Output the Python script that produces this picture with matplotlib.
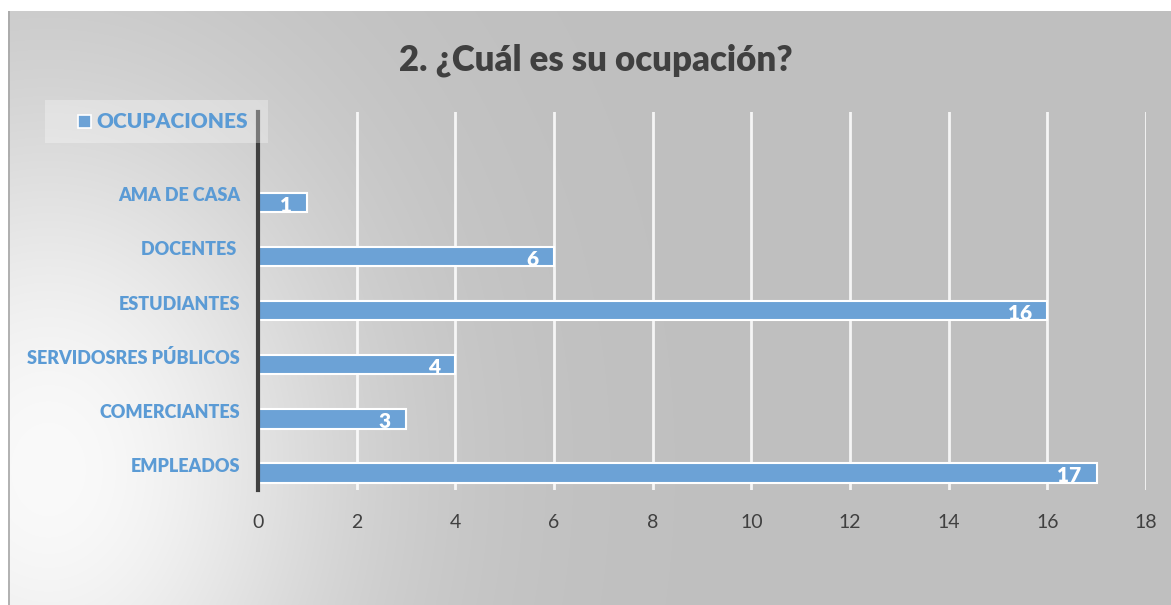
import numpy as np
import matplotlib.pyplot as plt
import matplotlib.transforms as mtrans

categorias = ['EMPLEADOS', 'COMERCIANTES', 'SERVIDOSRES PÚBLICOS', 'ESTUDIANTES', 'DOCENTES ', 'AMA DE CASA']
valores = [17, 3, 4, 16, 6, 1]
ticks_x = [0, 2, 4, 6, 8, 10, 12, 14, 16, 18]

azul = '#6CA2D6'
azul_txt = '#5B9BD5'

plt.rcParams['font.family'] = ['Lato', 'DejaVu Sans']

W, H = 1171, 605
fig = plt.figure(figsize=(W / 100, H / 100), dpi=100)
fig.patch.set_facecolor('white')

# fondo con degradado radial (claro abajo a la izquierda)
bg = fig.add_axes([8 / W, 0, 1 - 8 / W, 594 / H])
yy, xx = np.mgrid[0:594, 0:1163]
cx, cy = 40, 470
r = np.sqrt((xx - cx) ** 2 + (((594 - yy) - (cy - 11)) * 0.8) ** 2)
g = 0.75 + 0.23 * np.exp(-(r / 300) ** 2)
bg.imshow(np.dstack([g, g, g]), origin='lower', aspect='auto', extent=[0, 1, 0, 1])
bg.axis('off')
bg.plot([0.0008, 0.0008], [0, 1], color='#A6A6A6', lw=1.2, transform=bg.transAxes)

ax = fig.add_axes([258 / W, 1 - 490 / H, (1146 - 258) / W, (490 - 112) / H])
ax.patch.set_alpha(0)
y = np.arange(len(categorias))
ax.barh(y, valores, height=0.36, color=azul, edgecolor='white', linewidth=1.5, zorder=3)
ax.set_xlim(0, 18)
ax.set_ylim(-0.315, 6.67)
ax.set_xticks(ticks_x)
ax.set_yticks(y)
ax.set_yticklabels(categorias, color=azul_txt, fontweight='heavy', fontsize=13)
ax.tick_params(axis='y', length=0, pad=13)
ax.tick_params(axis='x', length=0, pad=17, labelsize=14, labelcolor='#404040')
# las etiquetas quedan un poco por encima del centro de la barra
desplaza = mtrans.ScaledTranslation(0, 8 / 100, fig.dpi_scale_trans)
for lab in ax.get_yticklabels():
    lab.set_transform(lab.get_transform() + desplaza)
for s in ['top', 'right', 'bottom']:
    ax.spines[s].set_visible(False)
ax.spines['left'].set_color('#404040')
ax.spines['left'].set_linewidth(3)
ax.spines['left'].set_zorder(5)
for t in ticks_x[1:]:
    ax.axvline(t, color='white', lw=2, alpha=0.85, zorder=1)

for yi, v_ in zip(y, valores):
    ax.annotate(str(v_), (v_, yi), xytext=(-11, -2), textcoords='offset points',
                ha='right', va='center', color='white', fontweight='heavy', fontsize=15, zorder=4)

fig.text(596 / W, 1 - 60 / H, '2. ¿Cuál es su ocupación?', ha='center', va='center',
         fontsize=25, fontweight='heavy', color='#404040')

# leyenda
fig.patches.append(plt.Rectangle((45 / W, 1 - 143 / H), (268 - 45) / W, 43 / H,
                                 transform=fig.transFigure, facecolor='white', alpha=0.3,
                                 edgecolor='none'))
fig.patches.append(plt.Rectangle((78 / W, 1 - 128 / H), 13 / W, 13 / H,
                                 transform=fig.transFigure, facecolor=azul,
                                 edgecolor='white', linewidth=1.2))
fig.text(96 / W, 1 - 121 / H, 'OCUPACIONES', ha='left', va='center',
         fontsize=15, fontweight='heavy', color=azul_txt)

fig.savefig('out.png', dpi=100)
